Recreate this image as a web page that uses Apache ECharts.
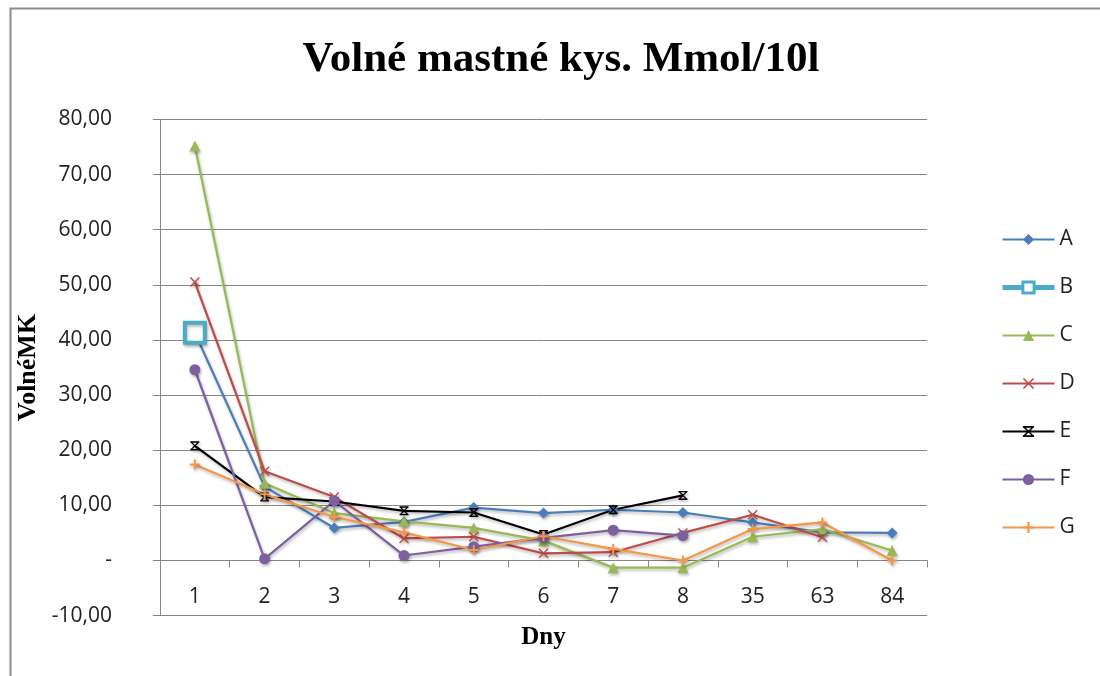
<!DOCTYPE html>
<html>
<head>
<meta charset="utf-8">
<script src="https://cdn.jsdelivr.net/npm/echarts@6/dist/echarts.min.js"></script>
<style>
  html, body { margin: 0; padding: 0; background: #fff; }
  #chart { width: 1100px; height: 676px; }
</style>
</head>
<body>
<div id="chart"></div>
<script>
// Days of sampling
const days = ['1', '2', '3', '4', '5', '6', '7', '8', '35', '63', '84'];

// Free fatty acids per group (Mmol/10l)
const seriesA = [41.3, 13.4, 5.9, 7.0, 9.6, 8.6, 9.2, 8.7, 6.9, 5.1, 5.0];
const seriesB = [41.3, null, null, null, null, null, null, null, null, null, null];
const seriesC = [75.2, 14.0, 8.6, 7.1, 5.9, 3.6, -1.3, -1.3, 4.3, 5.7, 1.8];
const seriesD = [50.5, 16.2, 11.5, 4.0, 4.3, 1.3, 1.5, 5.0, 8.3, 4.2, null];
const seriesE = [20.8, 11.5, 10.7, 9.0, 8.7, 4.7, 9.2, 11.8, null, null, null];
const seriesF = [34.6, 0.3, 10.8, 0.9, 2.5, 4.1, 5.5, 4.5, null, null, null];
const seriesG = [17.4, 12.0, 7.9, 5.1, 1.9, 4.4, 2.1, 0.0, 5.7, 6.9, 0.0];

const groupNames = ['A', 'B', 'C', 'D', 'E', 'F', 'G'];

// Value axis range
const yMin = -10;
const yMax = 80;
const yStep = 10;

// Marker shapes
const crossPath = 'path://M1,0 L5,4 L9,0 L10,1 L6,5 L10,9 L9,10 L5,6 L1,10 L0,9 L4,5 L0,1 Z';
const starPath = 'path://M1,0 L5,4 L9,0 L10,1 L6,5 L10,9 L9,10 L5,6 L1,10 L0,9 L4,5 L0,1 Z M0,0 L10,0 L10,1.6 L0,1.6 Z M0,8.4 L10,8.4 L10,10 L0,10 Z';
const plusPath = 'path://M4,0 L6,0 L6,4 L10,4 L10,6 L6,6 L6,10 L4,10 L4,6 L0,6 L0,4 L4,4 Z';

const shadow = { shadowColor: 'rgba(0,0,0,0.28)', shadowBlur: 3, shadowOffsetX: 1, shadowOffsetY: 2 };

function lineSeries(name, data, color, symbol, size, extra) {
  return Object.assign({
    name: name,
    type: 'line',
    data: data,
    symbol: symbol,
    symbolSize: size,
    showAllSymbol: true,
    lineStyle: Object.assign({ color: color, width: 2.2 }, shadow),
    itemStyle: Object.assign({ color: color }, shadow),
    emphasis: { disabled: true },
    animation: false
  }, extra || {});
}

const chart = echarts.init(document.getElementById('chart'), null, { renderer: 'canvas' });

const labelFont = '"Open Sans", "Liberation Sans", sans-serif';
const serifFont = '"Liberation Serif", "DejaVu Serif", serif';

// Plot box
const gridTop = 119.5;
const gridBottom = 60.4;
const plotHeight = 676 - gridTop - gridBottom;
// Category axis sits on the zero line of the value axis
const zeroLift = plotHeight * (0 - yMin) / (yMax - yMin);

chart.setOption({
  backgroundColor: '#ffffff',
  animation: false,
  title: {
    text: 'Volné mastné kys. Mmol/10l',
    left: 556,
    top: 33,
    textAlign: 'center',
    textStyle: { fontFamily: serifFont, fontWeight: 'bold', fontSize: 43, color: '#000' }
  },
  graphic: [{
    type: 'rect',
    shape: { x: 10.5, y: 8.5, width: 1200, height: 800 },
    style: { fill: 'none', stroke: '#8c8c8c', lineWidth: 2 },
    silent: true
  }],
  legend: {
    orient: 'vertical',
    left: 995,
    top: 224,
    itemWidth: 52,
    itemHeight: 14,
    itemGap: 27,
    data: [
      'A',
      { name: 'B', lineStyle: { width: 5 }, itemStyle: { borderWidth: 3 } },
      'C', 'D', 'E', 'F', 'G'
    ],
    textStyle: { fontFamily: labelFont, fontSize: 21, color: '#222' }
  },
  grid: {
    left: 160, right: 173, top: gridTop, bottom: gridBottom,
    containLabel: false,
    outerBoundsMode: 'none'
  },
  xAxis: {
    type: 'category',
    data: days,
    boundaryGap: true,
    offset: -zeroLift,
    name: 'Dny',
    nameLocation: 'middle',
    nameGap: 65,
    nameTextStyle: { fontFamily: serifFont, fontWeight: 'bold', fontSize: 25, color: '#000' },
    axisLine: { onZero: false, lineStyle: { color: '#868686', width: 1 } },
    axisTick: { show: true, alignWithLabel: false, length: 7, lineStyle: { color: '#868686' } },
    axisLabel: { margin: 26, fontFamily: labelFont, fontSize: 21, color: '#222' },
    splitLine: { show: false }
  },
  yAxis: {
    type: 'value',
    min: yMin,
    max: yMax,
    interval: yStep,
    name: 'VolnéMK',
    nameLocation: 'middle',
    nameGap: 117,
    nameTextStyle: { fontFamily: serifFont, fontWeight: 'bold', fontSize: 26, color: '#000' },
    axisLine: { show: true, lineStyle: { color: '#868686', width: 1 } },
    axisTick: { show: true, length: 7, lineStyle: { color: '#868686' } },
    axisLabel: {
      margin: 48,
      fontFamily: labelFont,
      fontSize: 21,
      color: '#222',
      formatter: function (v) { return v === 0 ? '-' : v.toFixed(2).replace('.', ','); }
    },
    splitLine: { show: true, lineStyle: { color: '#868686', width: 1 } }
  },
  series: [
    lineSeries('A', seriesA, '#4a7ebb', 'diamond', 11),
    lineSeries('B', seriesB, '#4bacc6', 'rect', 20, {
      lineStyle: Object.assign({ color: '#4bacc6', width: 6 }, shadow),
      itemStyle: Object.assign({ color: '#ffffff', borderColor: '#4bacc6', borderWidth: 4 }, shadow)
    }),
    lineSeries('C', seriesC, '#98b954', 'triangle', 11),
    lineSeries('D', seriesD, '#be4b48', crossPath, 10),
    lineSeries('E', seriesE, '#000000', starPath, 9),
    lineSeries('F', seriesF, '#7d60a0', 'circle', 11),
    lineSeries('G', seriesG, '#f79646', plusPath, 10)
  ]
});
</script>
</body>
</html>
